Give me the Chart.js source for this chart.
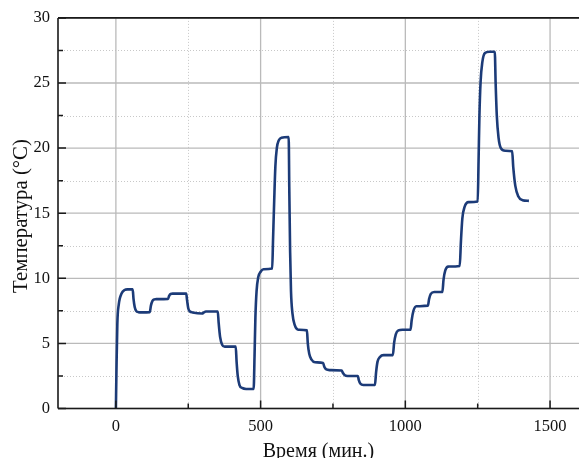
<!DOCTYPE html>
<html>
<head>
<meta charset="utf-8">
<script src="https://cdn.jsdelivr.net/npm/chart.js@4/dist/chart.umd.min.js"></script>
<style>
html,body{margin:0;padding:0;background:#fff;}
#wrap{width:579px;height:458px;position:relative;}
</style>
</head>
<body>
<div id="wrap"><canvas id="c" width="579" height="458"></canvas></div>
<script>
const timeMin = [0,2,5,10,20,30,40,58,61,65,70,78,90,117,121,126,133,140,180,184,189,196,243,246,250,256,265,298,304,311,352,355,360,367,376,414,417,421,427,436,450,476,479,482,486,492,500,510,540,543,547,551,556,563,572,597,599,602,605,610,618,630,660,663,668,676,688,716,720,727,738,780,784,791,800,836,839,845,855,895,899,904,912,925,957,961,967,976,990,1018,1022,1028,1038,1078,1082,1088,1100,1128,1132,1138,1148,1188,1192,1197,1205,1218,1250,1253,1256,1260,1266,1275,1290,1309,1312,1316,1322,1330,1345,1369,1373,1380,1390,1405,1427];
const tempC   = [0,3,6.5,8.0,8.85,9.1,9.15,9.15,8.4,7.8,7.5,7.4,7.38,7.4,7.9,8.25,8.38,8.4,8.42,8.65,8.8,8.82,8.82,8.3,7.7,7.45,7.38,7.3,7.38,7.45,7.45,6.6,5.5,4.9,4.75,4.75,3.6,2.5,1.8,1.58,1.5,1.5,4.0,7.0,9.0,10.1,10.5,10.7,10.75,13.0,16.0,18.6,20.0,20.6,20.8,20.85,17.0,12.0,9.0,7.3,6.4,6.05,6.0,5.0,4.2,3.75,3.55,3.5,3.2,3.0,2.95,2.92,2.75,2.55,2.5,2.5,2.2,1.9,1.8,1.8,2.8,3.6,3.95,4.1,4.1,5.0,5.7,6.0,6.05,6.05,6.8,7.5,7.85,7.9,8.4,8.8,8.95,8.95,9.9,10.6,10.9,10.95,12.8,14.6,15.5,15.85,15.9,19.0,22.5,25.1,26.6,27.3,27.4,27.4,25.0,22.5,20.8,20.0,19.8,19.75,18.5,17.1,16.3,16.0,15.95];

const xMajorTicks = [0,500,1000,1500];
const xMinorTicks = [250,750,1250];
const yMajorTicks = [0,5,10,15,20,25,30];
const yMinorTicks = [2.5,7.5,12.5,17.5,22.5,27.5];
const xTitle = 'Время (мин.)';
const yTitle = 'Температура (°C)';

const FONT = '"Liberation Serif", "Times New Roman", serif';

const gridPlugin = {
  id: 'gridPlugin',
  beforeDatasetsDraw(chart) {
    const {ctx, chartArea: a, scales: {x, y}} = chart;
    ctx.save();
    ctx.lineWidth = 1;
    ctx.strokeStyle = '#c8c8c8';
    ctx.setLineDash([1,2]);
    xMinorTicks.forEach(v => { const p = Math.round(x.getPixelForValue(v)) + 0.5; ctx.beginPath(); ctx.moveTo(p, a.top); ctx.lineTo(p, a.bottom); ctx.stroke(); });
    yMinorTicks.forEach(v => { const p = Math.round(y.getPixelForValue(v)) + 0.5; ctx.beginPath(); ctx.moveTo(a.left, p); ctx.lineTo(a.right, p); ctx.stroke(); });
    ctx.setLineDash([]);
    ctx.strokeStyle = '#bababa';
    ctx.lineWidth = 1.3;
    xMajorTicks.forEach(v => { const p = x.getPixelForValue(v); ctx.beginPath(); ctx.moveTo(p, a.top); ctx.lineTo(p, a.bottom); ctx.stroke(); });
    yMajorTicks.forEach(v => { const p = y.getPixelForValue(v); ctx.beginPath(); ctx.moveTo(a.left, p); ctx.lineTo(a.right, p); ctx.stroke(); });
    ctx.restore();
  },
  afterDraw(chart) {
    const {ctx, chartArea: a, scales: {x, y}} = chart;
    ctx.save();
    ctx.strokeStyle = '#1a1a1a';
    ctx.lineWidth = 1.6;
    ctx.beginPath();
    ctx.moveTo(a.left, a.top); ctx.lineTo(a.right, a.top);
    ctx.moveTo(a.left, a.top); ctx.lineTo(a.left, a.bottom);
    ctx.moveTo(a.left, a.bottom); ctx.lineTo(a.right, a.bottom);
    ctx.stroke();
    ctx.lineWidth = 1.5;
    ctx.beginPath();
    xMajorTicks.forEach(v => { const p = x.getPixelForValue(v); ctx.moveTo(p, a.bottom); ctx.lineTo(p, a.bottom - 8); });
    xMinorTicks.forEach(v => { const p = x.getPixelForValue(v); ctx.moveTo(p, a.bottom); ctx.lineTo(p, a.bottom - 5); });
    yMajorTicks.forEach(v => { const p = y.getPixelForValue(v); ctx.moveTo(a.left, p); ctx.lineTo(a.left + 8, p); });
    yMinorTicks.forEach(v => { const p = y.getPixelForValue(v); ctx.moveTo(a.left, p); ctx.lineTo(a.left + 5, p); });
    ctx.stroke();
    ctx.fillStyle = '#111';
    ctx.textAlign = 'center';
    ctx.textBaseline = 'alphabetic';
    ctx.font = '20px ' + FONT;
    ctx.fillText(xTitle, (a.left + a.right) / 2, 457);
    ctx.font = '20.8px ' + FONT;
    ctx.translate(27, 216);
    ctx.rotate(-Math.PI / 2);
    ctx.fillText(yTitle, 0, 0);
    ctx.restore();
  }
};

new Chart(document.getElementById('c'), {
  type: 'line',
  data: {
    datasets: [{
      data: timeMin.map((t, i) => ({x: t, y: tempC[i]})),
      borderColor: '#1c3b78',
      borderWidth: 2.6,
      pointRadius: 0,
      fill: false,
      cubicInterpolationMode: 'monotone'
    }]
  },
  options: {
    responsive: false,
    animation: false,
    devicePixelRatio: 1,
    layout: {padding: {top: 17, right: 0, left: 0, bottom: 0}},
    plugins: {legend: {display: false}, tooltip: {enabled: false}},
    scales: {
      x: {
        type: 'linear', min: -200, max: 1600,
        afterBuildTicks: s => { s.ticks = xMajorTicks.map(v => ({value: v})); },
        afterFit: s => { s.height = 49.5; },
        grid: {display: false, drawTicks: false},
        border: {display: false},
        ticks: {font: {family: FONT, size: 16.5}, color: '#111', padding: 8, maxRotation: 0, callback: v => String(v)}
      },
      y: {
        type: 'linear', min: 0, max: 30,
        afterBuildTicks: s => { s.ticks = yMajorTicks.map(v => ({value: v})); },
        afterFit: s => { s.width = 58; },
        grid: {display: false, drawTicks: false},
        border: {display: false},
        ticks: {font: {family: FONT, size: 16.5}, color: '#111', padding: 8, callback: v => String(v)}
      }
    }
  },
  plugins: [gridPlugin]
});
</script>
</body>
</html>
